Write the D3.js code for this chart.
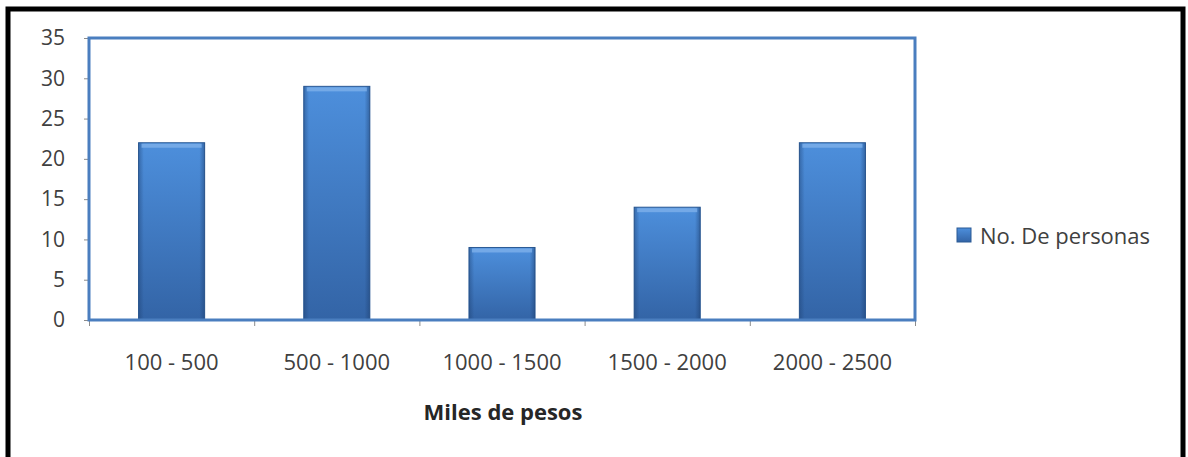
<!DOCTYPE html>
<html><head><meta charset="utf-8">
<script src="https://cdn.jsdelivr.net/npm/d3@7"></script>
<style>html,body{margin:0;padding:0;background:#fff;}svg{display:block;}</style>
</head><body>
<script>
const categories = ["100 - 500", "500 - 1000", "1000 - 1500", "1500 - 2000", "2000 - 2500"];
const values = [22, 29, 9, 14, 22];
const yTicks = [0, 5, 10, 15, 20, 25, 30, 35];
const seriesName = "No. De personas";
const xTitle = "Miles de pesos";

(function(){
const W = 1188, H = 457;
const svg = d3.select("body").append("svg").attr("width", W).attr("height", H);
const defs = svg.append("defs");
const g1 = defs.append("linearGradient").attr("id","barV").attr("x1",0).attr("y1",0).attr("x2",0).attr("y2",1);
g1.append("stop").attr("offset","0%").attr("stop-color","#4d8fdc");
g1.append("stop").attr("offset","100%").attr("stop-color","#3364a6");
const g2 = defs.append("linearGradient").attr("id","barH").attr("x1",0).attr("y1",0).attr("x2",1).attr("y2",0);
g2.append("stop").attr("offset","0%").attr("stop-color","#1d3f70").attr("stop-opacity",0.45);
g2.append("stop").attr("offset","8%").attr("stop-color","#1d3f70").attr("stop-opacity",0);
g2.append("stop").attr("offset","92%").attr("stop-color","#1d3f70").attr("stop-opacity",0);
g2.append("stop").attr("offset","100%").attr("stop-color","#1d3f70").attr("stop-opacity",0.5);

// outer frame (black, no bottom edge)
svg.append("path").attr("d", `M8,${H} L8,9 L1183,9 L1183,${H}`)
  .attr("fill","none").attr("stroke","#000").attr("stroke-width",5);

const pl = 89, pr = 915, pt = 38, pb = 320;
const x = d3.scaleBand().domain(categories).range([pl, pr]).paddingInner(0.6).paddingOuter(0.3);
const y = d3.scaleLinear().domain([0, 35]).range([pb, pt]);

const font = "'Open Sans', Lato, sans-serif";

// y axis
const yAx = svg.append("g").attr("transform", `translate(${pl},0)`)
  .call(d3.axisLeft(y).tickValues(yTicks).tickSize(5).tickPadding(19));
yAx.select(".domain").remove();
yAx.selectAll("line").attr("stroke","#8c8c8c");
yAx.selectAll("text").attr("font-family",font).attr("font-size",21).attr("fill","#404040");

// x axis ticks at band boundaries
const xb = d3.scaleLinear().domain([0, categories.length]).range([pl, pr]);
const xAx = svg.append("g").attr("transform", `translate(0,${pb})`)
  .call(d3.axisBottom(xb).ticks(categories.length).tickSize(6).tickFormat(""));
xAx.select(".domain").remove();
xAx.selectAll("line").attr("stroke","#8c8c8c");

// category labels
svg.append("g").selectAll("text").data(categories).join("text")
  .attr("x", d => x(d) + x.bandwidth()/2).attr("y", 370)
  .attr("text-anchor","middle").attr("font-family",font).attr("font-size",22).attr("fill","#404040")
  .text(d => d);

// bars
const bars = svg.append("g").selectAll("g").data(values).join("g");
bars.append("rect")
  .attr("x",(d,i)=>x(categories[i])).attr("y",d=>y(d))
  .attr("width",x.bandwidth()).attr("height",d=>pb-y(d))
  .attr("fill","url(#barV)").attr("stroke","#2b5a95").attr("stroke-width",1);
bars.append("rect")
  .attr("x",(d,i)=>x(categories[i])).attr("y",d=>y(d))
  .attr("width",x.bandwidth()).attr("height",d=>pb-y(d))
  .attr("fill","url(#barH)");
bars.append("rect")
  .attr("x",(d,i)=>x(categories[i])+3).attr("y",d=>y(d)+1)
  .attr("width",x.bandwidth()-6).attr("height",4)
  .attr("fill","#7eb0ea").attr("opacity",0.8);

// plot frame
svg.append("rect").attr("x",pl).attr("y",pt).attr("width",pr-pl).attr("height",pb-pt)
  .attr("fill","none").attr("stroke","#4a7ebf").attr("stroke-width",3);

// x title
svg.append("text").attr("x", 503).attr("y", 420).attr("text-anchor","middle")
  .attr("font-family",font).attr("font-size",22).attr("font-weight","bold").attr("fill","#262626")
  .text(xTitle);

// legend
svg.append("rect").attr("x",957).attr("y",228).attr("width",14).attr("height",14)
  .attr("fill","url(#barV)").attr("stroke","#2b5a95");
svg.append("text").attr("x",980).attr("y",244).attr("font-family",font).attr("font-size",22).attr("fill","#404040")
  .text(seriesName);
})();
</script>
</body></html>
